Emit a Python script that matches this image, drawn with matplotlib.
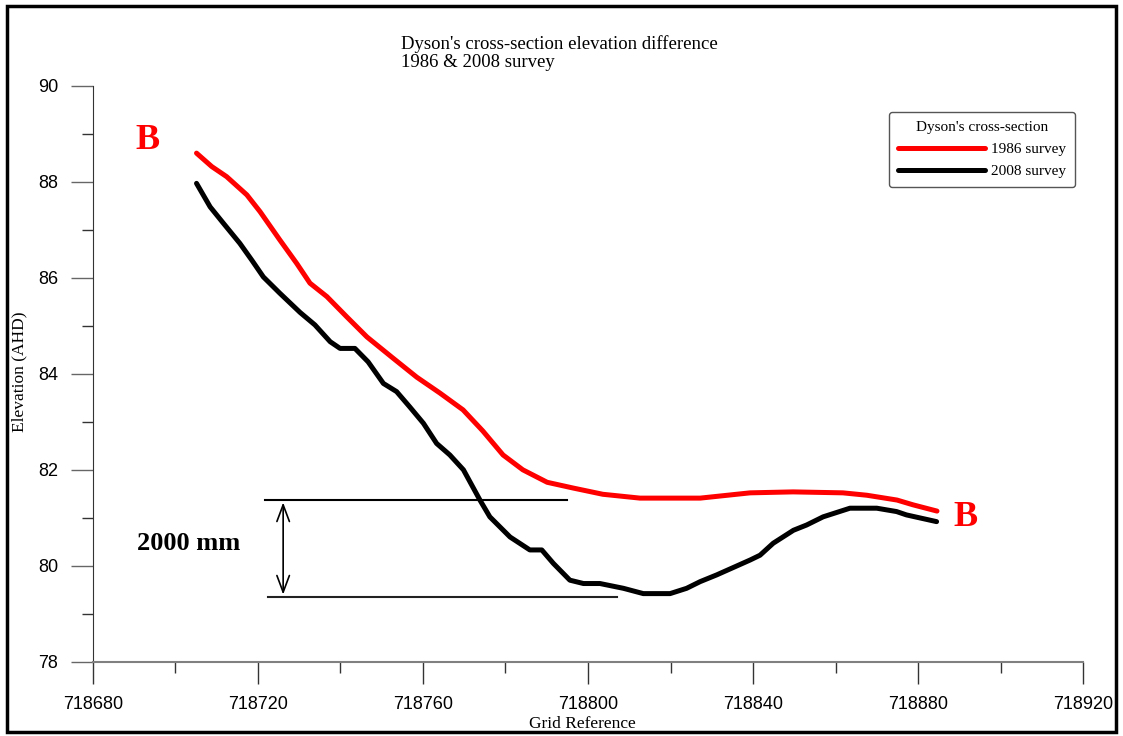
import numpy as np
import matplotlib
matplotlib.use('Agg')
import matplotlib.pyplot as plt
from matplotlib.ticker import MultipleLocator, FormatStrFormatter
from matplotlib.patches import Rectangle

# 1986 survey (red)
x_1986 = [718705.1, 718708.8, 718712.4, 718717.3, 718720.5, 718725.3, 718729.4,
          718732.6, 718736.7, 718741.5, 718746.4, 718752.7, 718758.5, 718764.1,
          718769.7, 718774.5, 718779.4, 718784.2, 718790.1, 718796.4, 718803.6,
          718812.6, 718827.2, 718839.3, 718849.7, 718861.8, 718867.6, 718874.9,
          718878.8, 718884.6]
y_1986 = [88.60, 88.32, 88.11, 87.73, 87.38, 86.79, 86.30,
          85.89, 85.61, 85.19, 84.77, 84.33, 83.93, 83.60,
          83.25, 82.81, 82.31, 82.00, 81.74, 81.62, 81.49,
          81.41, 81.41, 81.52, 81.54, 81.52, 81.47, 81.37,
          81.27, 81.14]

# 2008 survey (black)
x_2008 = [718705.1, 718708.4, 718711.6, 718715.6, 718718.5, 718721.3, 718725.3,
          718730.2, 718733.8, 718737.5, 718739.9, 718743.5, 718746.7, 718750.4,
          718753.6, 718756.8, 718760.1, 718763.3, 718766.5, 718769.8, 718773.8,
          718776.2, 718781.1, 718785.9, 718788.8, 718791.6, 718795.6, 718798.9,
          718802.9, 718808.6, 718813.4, 718819.9, 718823.9, 718827.2, 718831.2,
          718839.3, 718841.7, 718844.9, 718849.8, 718853.0, 718857.0, 718863.5,
          718870.0, 718874.8, 718877.2, 718884.5]
y_2008 = [87.97, 87.48, 87.14, 86.72, 86.37, 86.02, 85.68,
          85.28, 85.02, 84.67, 84.53, 84.53, 84.25, 83.80,
          83.63, 83.31, 82.97, 82.55, 82.31, 82.00, 81.37,
          81.02, 80.60, 80.33, 80.33, 80.05, 79.70, 79.63,
          79.63, 79.53, 79.42, 79.42, 79.53, 79.67, 79.81,
          80.12, 80.22, 80.47, 80.74, 80.85, 81.02, 81.20,
          81.20, 81.13, 81.06, 80.92]

# 2000 mm marker (upper / lower reference lines)
upper_ref = [718721.7, 718794.9, 81.37]
lower_ref = [718722.4, 718807.0, 79.35]
arrow_x = 718726.1

serif = 'Liberation Serif'
sans = 'Liberation Sans'

fig = plt.figure(figsize=(11.23, 7.36), dpi=100)
ax = fig.add_axes([0.0828, 0.1009, 0.8816, 0.7823])

ax.plot(x_1986, y_1986, color='#ff0000', lw=3.6, label='1986 survey',
        solid_capstyle='round', solid_joinstyle='round')
ax.plot(x_2008, y_2008, color='black', lw=3.6, label='2008 survey',
        solid_capstyle='round', solid_joinstyle='round')

ax.set_xlim(718680, 718920)
ax.set_ylim(78, 90)
ax.xaxis.set_major_locator(MultipleLocator(40))
ax.xaxis.set_minor_locator(MultipleLocator(20))
ax.yaxis.set_major_locator(MultipleLocator(2))
ax.yaxis.set_minor_locator(MultipleLocator(1))
ax.xaxis.set_major_formatter(FormatStrFormatter('%d'))
ax.yaxis.set_major_formatter(FormatStrFormatter('%d'))

for s in ['top', 'right']:
    ax.spines[s].set_visible(False)
ax.spines['left'].set_color('#333333')
ax.spines['bottom'].set_color('#808080')
ax.spines['bottom'].set_linewidth(1.5)

ax.tick_params(which='major', direction='out', length=16, width=1.0,
               color='#333333', labelsize=13, pad=9)
ax.tick_params(which='minor', direction='out', length=8, width=1.0,
               color='#333333')
ax.tick_params(axis='y', which='major', color='#666666')
for lab in ax.get_xticklabels() + ax.get_yticklabels():
    lab.set_fontfamily(sans)

# legend with title
leg = ax.legend(title="Dyson's cross-section", loc='upper right',
                bbox_to_anchor=(0.992, 0.955), borderaxespad=0,
                prop={'family': serif, 'size': 11},
                title_fontproperties={'family': serif, 'size': 11},
                handlelength=5.7, handletextpad=0.4, labelspacing=0.55,
                borderpad=0.6, fancybox=True, framealpha=1, edgecolor='#555555')
leg.get_frame().set_linewidth(1.0)

# 2000 mm annotation
ax.plot(upper_ref[:2], [upper_ref[2]] * 2, color='black', lw=1.5)
ax.plot(lower_ref[:2], [lower_ref[2]] * 2, color='#222222', lw=1.5)
ax.annotate('', xy=(arrow_x, upper_ref[2] - 0.05), xytext=(arrow_x, lower_ref[2] + 0.05),
            arrowprops=dict(arrowstyle='<->,head_length=1.2,head_width=0.45',
                            color='black', lw=1.2, shrinkA=0, shrinkB=0))
ax.text(718690.7, 80.47, '2000 mm', family=serif, weight='bold', fontsize=19,
        ha='left', va='center')

# B labels at the section ends
ax.text(718693.3, 88.87, 'B', family=serif, weight='bold', fontsize=26,
        color='#ff0000', ha='center', va='center')
ax.text(718891.6, 81.01, 'B', family=serif, weight='bold', fontsize=26,
        color='#ff0000', ha='center', va='center')

# titles / axis labels
fig.text(0.357, 0.952, "Dyson's cross-section elevation difference\n1986 & 2008 survey",
         family=serif, fontsize=13.5, ha='left', va='top', linespacing=1.07)
fig.text(0.017, 0.495, 'Elevation (AHD)', family=serif, fontsize=12.5,
         rotation=90, ha='center', va='center')
fig.text(0.519, 0.016, 'Grid Reference', family=serif, fontsize=12.5,
         ha='center', va='center')

# black frame around the whole picture
fig.patches.append(Rectangle((0.006, 0.005), 0.988, 0.987, transform=fig.transFigure,
                             fill=False, edgecolor='black', lw=2.5))

fig.savefig('out.png', dpi=100)
